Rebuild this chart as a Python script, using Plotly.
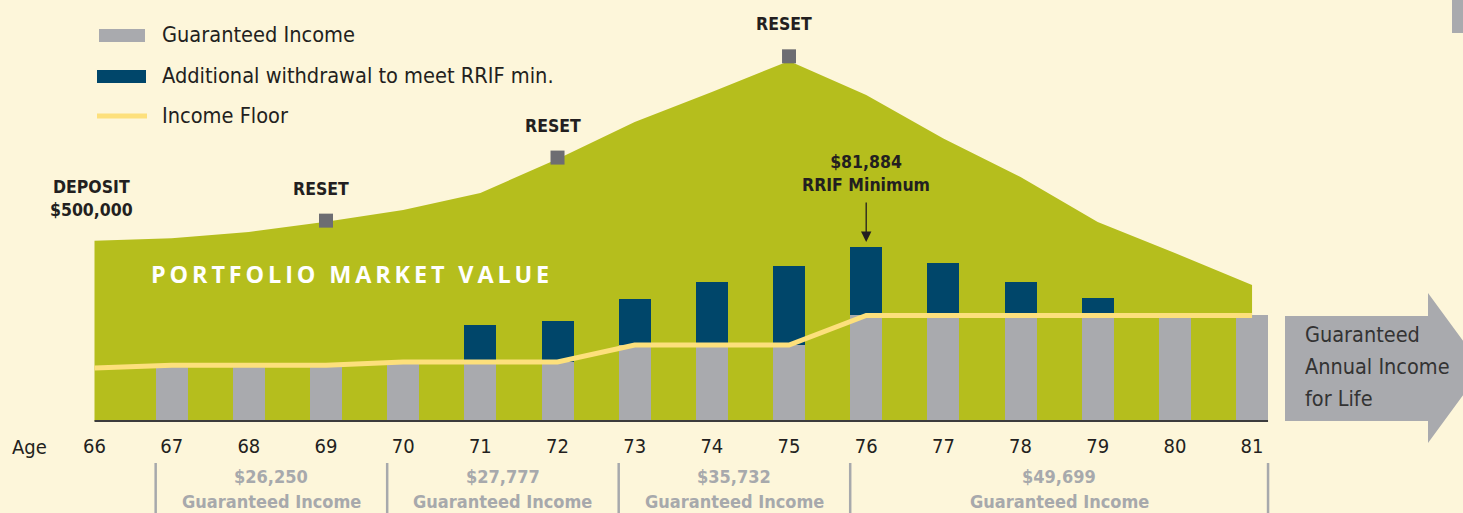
import plotly.graph_objects as go

# ---------------- data ----------------
ages = [66, 67, 68, 69, 70, 71, 72, 73, 74, 75, 76, 77, 78, 79, 80, 81]
age_labels = [str(a) for a in ages]
portfolio_value = [500000, 507000, 524500, 553000, 585500, 632700, 727000, 829700,
                   913000, 999000, 904700, 784000, 677100, 552200, 466200, 377400]
bar_ages = [67, 68, 69, 70, 71, 72, 73, 74, 75, 76, 77, 78, 79, 80, 81]
guaranteed_income = [26250, 26250, 26250, 27777, 27777, 27777, 35732, 35732, 35732,
                     49699, 49699, 49699, 49699, 49699, 49699]
additional_withdrawal = [0, 0, 0, 0, 17400, 19300, 21700, 29700, 37200,
                         32185, 24650, 15700, 8200, 0, 0]
income_floor = [25000, 26250, 26250, 26250, 27777, 27777, 27777, 35732, 35732, 35732,
                49699, 49699, 49699, 49699, 49699, 49699]
reset_ages = [69, 72, 75]
reset_values = [556000, 731000, 1012000]
group_amounts = ["$26,250", "$27,777", "$35,732", "$49,699"]
group_start = [67, 70, 73, 76]
group_end = [69, 72, 75, 81]
legend_labels = ["Guaranteed Income", "Additional withdrawal to meet RRIF min.", "Income Floor"]
arrow_lines = ["Guaranteed", "Annual Income", "for Life"]

# ---------------- style ----------------
BG = "#FDF6DA"
GREEN = "#B5BE1D"
NAVY = "#00466A"
GRAY = "#A9AAAE"
YELLOW = "#FDE07C"
MARK = "#6D6D72"
DARK = "#231F20"
LGRAY = "#A7A9AC"
FONT = "Liberation Sans Narrow, DejaVu Sans Condensed, Arial Narrow, sans-serif"

W, H = 1463, 513
PLOT_H = 421          # baseline pixel row
PX_PER_YEAR = 77.17
X66 = 94.5
x_lo = 66 - X66 / PX_PER_YEAR
x_hi = 66 + (W - X66) / PX_PER_YEAR
BAR_W = 32 / PX_PER_YEAR
PV_PER_PX = 2775.0
INC_PER_PX = 470.6


def px_x(p):
    return p / W


def px_y(p):
    return (PLOT_H - p) / PLOT_H


fig = go.Figure()

# portfolio market value area
fig.add_trace(go.Scatter(x=ages, y=portfolio_value, fill="tozeroy", mode="none",
                         fillcolor=GREEN, yaxis="y", hoverinfo="skip", showlegend=False))
# reset markers
fig.add_trace(go.Scatter(x=reset_ages, y=reset_values, mode="markers", yaxis="y",
                         marker=dict(symbol="square", size=14, color=MARK),
                         cliponaxis=False, showlegend=False))
# bars
fig.add_trace(go.Bar(x=bar_ages, y=guaranteed_income, width=BAR_W, marker_color=GRAY,
                     marker_line_width=0, yaxis="y2", showlegend=False))
fig.add_trace(go.Bar(x=bar_ages, y=additional_withdrawal, width=BAR_W, marker_color=NAVY,
                     marker_line_width=0, yaxis="y2", showlegend=False))
# income floor line
fig.add_trace(go.Scatter(x=ages, y=income_floor, mode="lines", yaxis="y2",
                         line=dict(color=YELLOW, width=5), showlegend=False))

shapes = []
annotations = []

# baseline
shapes.append(dict(type="line", xref="x", yref="paper", x0=66, x1=81 + BAR_W / 2,
                   y0=0, y1=0, line=dict(color="#3C3C3C", width=2), layer="above"))

# legend
shapes.append(dict(type="rect", xref="paper", yref="paper", x0=px_x(99), x1=px_x(145),
                   y0=px_y(42), y1=px_y(29), fillcolor=GRAY, line_width=0))
shapes.append(dict(type="rect", xref="paper", yref="paper", x0=px_x(97), x1=px_x(146),
                   y0=px_y(83), y1=px_y(70), fillcolor=NAVY, line_width=0))
shapes.append(dict(type="line", xref="paper", yref="paper", x0=px_x(97), x1=px_x(147),
                   y0=px_y(116), y1=px_y(116), line=dict(color=YELLOW, width=5)))
for lbl, py in zip(legend_labels, [34, 75, 115]):
    annotations.append(dict(text=lbl, xref="paper", yref="paper", x=px_x(160), y=px_y(py),
                            xanchor="left", yanchor="middle", showarrow=False,
                            font=dict(family=FONT, size=21.6, color=DARK)))

# portfolio label (letter-spaced)
words = ["PORTFOLIO", "MARKET", "VALUE"]
spaced = "\u2009 \u2009".join("\u2009".join(w) for w in words)
annotations.append(dict(text="<b>" + spaced + "</b>",
                        xref="paper", yref="paper", x=px_x(349.5), y=px_y(274),
                        xanchor="center", yanchor="middle", showarrow=False,
                        font=dict(family="Open Sans, sans-serif", size=23.4, color="white")))

# deposit
annotations.append(dict(text="<b>DEPOSIT</b><br><b>$500,000</b>", xref="x", yref="y",
                        x=66, y=portfolio_value[0], yshift=42, xshift=-3, showarrow=False,
                        align="center", font=dict(family=FONT, size=17.5, color=DARK)))
# reset labels
for a, v in zip(reset_ages, reset_values):
    annotations.append(dict(text="<b>RESET</b>", xref="x", yref="y", x=a, y=v, yshift=32,
                            xshift=-5, showarrow=False,
                            font=dict(family=FONT, size=17.5, color=DARK)))

# RRIF minimum callout
rrif_total = guaranteed_income[bar_ages.index(76)] + additional_withdrawal[bar_ages.index(76)]
annotations.append(dict(text="", xref="x", yref="y2", x=76, y=rrif_total, showarrow=True,
                        ax=0, ay=-46, arrowhead=2, arrowsize=1.6, arrowwidth=1.3,
                        arrowcolor=DARK, standoff=5))
annotations.append(dict(text="<b>$81,884</b><br><b>RRIF Minimum</b>", xref="x", yref="y2",
                        x=76, y=rrif_total, yshift=74, showarrow=False, align="center",
                        font=dict(family=FONT, size=17.5, color=DARK)))

# Age label
annotations.append(dict(text="Age", xref="paper", yref="paper", x=px_x(29), y=px_y(447),
                        xanchor="center", yanchor="middle", showarrow=False,
                        font=dict(family=FONT, size=20, color=DARK)))

# bottom guaranteed income groups
for i, (amt, s, e) in enumerate(zip(group_amounts, group_start, group_end)):
    left = s - BAR_W / 2
    right = (e + BAR_W / 2) if i == len(group_start) - 1 else (group_start[i + 1] - BAR_W / 2)
    shapes.append(dict(type="line", xref="x", yref="paper", x0=left, x1=left,
                       y0=px_y(463), y1=px_y(514), line=dict(color=LGRAY, width=2.5)))
    cx = (left + right) / 2
    annotations.append(dict(text="<b>" + amt + "</b>", xref="x", yref="paper", x=cx,
                            y=px_y(476), yanchor="middle", showarrow=False,
                            font=dict(family=FONT, size=18, color=LGRAY)))
    annotations.append(dict(text="<b>Guaranteed Income</b>", xref="x", yref="paper", x=cx,
                            y=px_y(501), yanchor="middle", showarrow=False,
                            font=dict(family=FONT, size=18, color=LGRAY)))
last_edge = group_end[-1] + BAR_W / 2
shapes.append(dict(type="line", xref="x", yref="paper", x0=last_edge, x1=last_edge,
                   y0=px_y(463), y1=px_y(514), line=dict(color=LGRAY, width=2.5)))

# right arrow
path = "M {a},{b} L {c},{b} L {c},{d} L {e},{f} L {c},{g} L {c},{h} L {a},{h} Z".format(
    a=px_x(1285), b=px_y(316), c=px_x(1428), d=px_y(293), e=px_x(1483), f=px_y(368),
    g=px_y(443), h=px_y(421))
shapes.append(dict(type="path", xref="paper", yref="paper", path=path, fillcolor=GRAY,
                   line_width=0))
for txt, py in zip(arrow_lines, [334, 366, 398]):
    annotations.append(dict(text=txt, xref="paper", yref="paper", x=px_x(1303), y=px_y(py),
                            xanchor="left", yanchor="middle", showarrow=False,
                            font=dict(family=FONT, size=21.5, color="#333333")))
# top-right tab
shapes.append(dict(type="rect", xref="paper", yref="paper", x0=px_x(1452), x1=px_x(1464),
                   y0=px_y(33), y1=px_y(-1), fillcolor=GRAY, line_width=0))

fig.update_layout(
    width=W, height=H, margin=dict(l=0, r=0, t=0, b=H - PLOT_H, pad=0),
    paper_bgcolor=BG, plot_bgcolor=BG, barmode="stack", bargap=0,
    showlegend=False, shapes=shapes, annotations=annotations,
    xaxis=dict(range=[x_lo, x_hi], tickvals=ages, ticktext=age_labels, showgrid=False,
               zeroline=False, showline=False, ticks="outside", ticklen=7,
               tickcolor="rgba(0,0,0,0)", tickfont=dict(family=FONT, size=20, color=DARK)),
    yaxis=dict(range=[0, PLOT_H * PV_PER_PX], visible=False, showgrid=False),
    yaxis2=dict(range=[0, PLOT_H * INC_PER_PX], overlaying="y", visible=False,
                showgrid=False),
)

fig.write_html("out.html", config={"displayModeBar": False},
               post_script="document.body.style.margin='0px';"
                           "document.body.style.overflow='hidden';"
                           "document.body.style.background='" + BG + "';")
